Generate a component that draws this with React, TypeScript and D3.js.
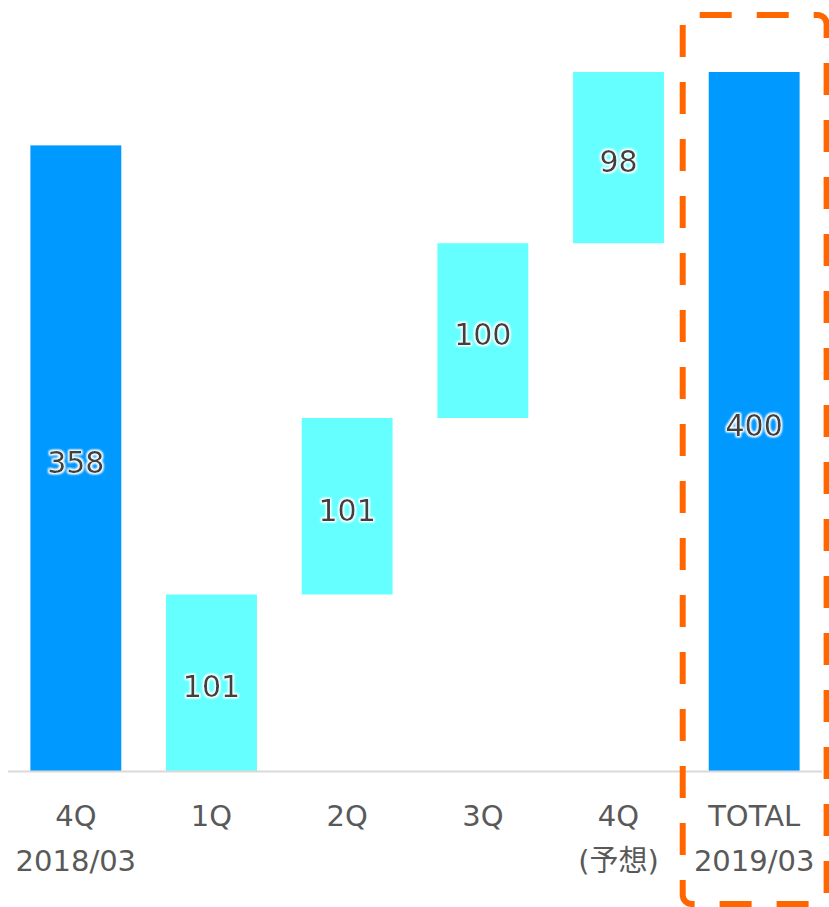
import React from "react";
import * as d3 from "d3";

const categories = ["4Q|2018/03", "1Q", "2Q", "3Q", "4Q|(予想)", "TOTAL|2019/03"];
const values = [358, 101, 101, 100, 98, 400];
const kinds = ["total", "delta", "delta", "delta", "delta", "total"];

const W = 829, H = 907;
const FONT = "'DejaVu Sans', Verdana, 'Noto Sans CJK JP', sans-serif";

export default function App() {
  const x = d3.scaleBand<string>().domain(categories).range([8, 822]).paddingInner(0.33).paddingOuter(0.165);
  const y = d3.scaleLinear().domain([0, 400]).range([771, 72]);

  let acc = 0;
  const bars = values.map((v, i) => {
    let y0: number, y1: number;
    if (kinds[i] === "total") { y0 = 0; y1 = v; }
    else { y0 = acc; y1 = acc + v; acc = y1; }
    return { cat: categories[i], v, y0, y1, kind: kinds[i] };
  });

  const totalCat = categories[5];
  const bx = x(totalCat)!;
  const bw = x.bandwidth();

  return (
    <svg width={W} height={H} style={{ position: "absolute", left: 0, top: 0 }}>
      <defs>
        <filter id="glow" x="-20%" y="-30%" width="140%" height="160%">
          <feMorphology in="SourceAlpha" operator="dilate" radius="1" result="d" />
          <feGaussianBlur in="d" stdDeviation="1.3" result="b" />
          <feFlood floodColor="#ffffff" />
          <feComposite in2="b" operator="in" result="w" />
          <feMerge>
            <feMergeNode in="w" />
            <feMergeNode in="w" />
            <feMergeNode in="SourceGraphic" />
          </feMerge>
        </filter>
      </defs>
      {bars.map((b, i) => (
        <rect key={i} x={x(b.cat)} width={bw} y={y(b.y1)} height={y(b.y0) - y(b.y1)}
          fill={b.kind === "total" ? "#0099FF" : "#66FFFF"} />
      ))}
      <line x1={8} x2={822} y1={y(0) + 0.5} y2={y(0) + 0.5} stroke="#D9D9D9" strokeWidth={2} />
      {bars.map((b, i) => (
        <text key={i} x={x(b.cat)! + bw / 2} y={(y(b.y0) + y(b.y1)) / 2 + 14.5}
          textAnchor="middle" fontFamily={FONT} fontSize={30} fill="#404040" filter="url(#glow)">
          {b.v}
        </text>
      ))}
      {categories.map((c, i) => {
        const lines = c.split("|");
        return lines.map((ln, j) => (
          <text key={i + "-" + j} x={x(c)! + bw / 2} y={825.5 + j * 45} textAnchor="middle"
            fontFamily={FONT} fontSize={29} fill="#595959">
            {ln}
          </text>
        ));
      })}
      <rect x={bx - 26} y={15} width={bw + 53} height={889} rx={9} fill="none"
        stroke="#FF6600" strokeWidth={6} strokeDasharray="32 25" strokeDashoffset={-8} />
    </svg>
  );
}
